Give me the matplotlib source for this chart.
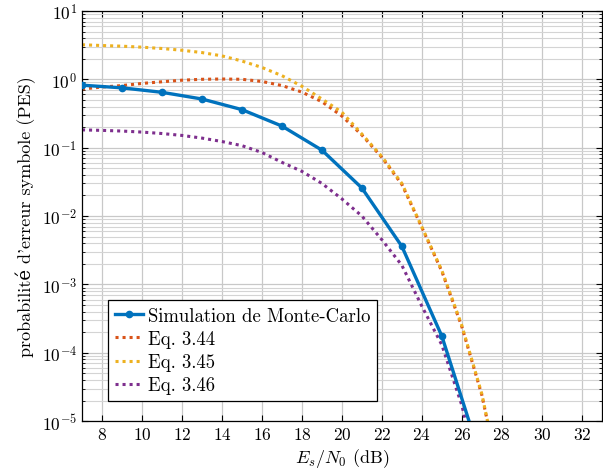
import matplotlib
matplotlib.use('Agg')
import matplotlib.pyplot as plt
import numpy as np

plt.rcParams['font.family'] = ['cmr10', 'DejaVu Serif']
plt.rcParams['mathtext.fontset'] = 'cm'
plt.rcParams['axes.formatter.use_mathtext'] = True

# simulation (Monte-Carlo), every 2 dB
snr_sim = [7, 9, 11, 13, 15, 17, 19, 21, 23, 25, 27]
pes_sim = [0.82, 0.75, 0.645, 0.515, 0.36, 0.207, 0.092, 0.0257, 0.0036, 1.75e-4, 2.6e-6]

# theoretical curves, read every 1 dB
snr_eq = [7, 8, 9, 10, 11, 12, 13, 14, 15, 16, 17, 18, 19, 20, 21, 22, 23, 24, 25, 26, 27, 28]
pes_344 = [0.72, 0.77, 0.81, 0.87, 0.92, 0.97, 1.0, 1.01, 1.0, 0.93, 0.81, 0.65, 0.47, 0.29, 0.153,
           0.072, 0.029, 6.8e-3, 1.55e-3, 2.4e-4, 2.4e-5, 1e-6]
pes_345 = [3.2, 3.12, 3.05, 2.95, 2.82, 2.66, 2.46, 2.2, 1.85, 1.49, 1.13, 0.79, 0.515, 0.33, 0.158,
           0.074, 0.03, 6.9e-3, 1.6e-3, 2.5e-4, 2.5e-5, 1e-6]
pes_346 = [0.182, 0.179, 0.175, 0.169, 0.161, 0.151, 0.138, 0.123, 0.107, 0.085, 0.061, 0.045, 0.030,
           0.0178, 0.01, 4.5e-3, 1.9e-3, 4.8e-4, 1.3e-4, 1.7e-5, 1e-6, 1e-7]

xticks = [8, 10, 12, 14, 16, 18, 20, 22, 24, 26, 28, 30, 32]
decades = [-5, -4, -3, -2, -1, 0, 1]
labels = ['Simulation de Monte-Carlo', 'Eq. 3.44', 'Eq. 3.45', 'Eq. 3.46']

fig = plt.figure(figsize=(6.03, 4.77), dpi=100)
ax = fig.add_axes([0.136, 0.115, 0.862, 0.86])

ax.plot(snr_sim, pes_sim, '-o', color='#0072BD', lw=2.4, ms=4.5, label=labels[0], zorder=5)
ax.plot(snr_eq, pes_344, color='#D95319', lw=2.2, ls=(0, (1, 1.3)), label=labels[1])
ax.plot(snr_eq, pes_345, color='#EDB120', lw=2.2, ls=(0, (1, 1.3)), label=labels[2])
ax.plot(snr_eq, pes_346, color='#7E2F8E', lw=2.2, ls=(0, (1, 1.3)), label=labels[3])

ax.set_yscale('log')
ax.set_xlim(7, 33)
ax.set_ylim(1e-5, 1e1)
ax.set_xticks(xticks)
ax.set_yticks([10.0 ** d for d in decades])
ax.set_yticklabels(['$10^{%d}$' % d for d in decades])
ax.set_yticks([k * 10.0 ** d for d in decades[:-1] for k in range(2, 10)], minor=True)
ax.set_yticklabels([], minor=True)

ax.grid(True, which='major', color='#c8c8c8', lw=0.9)
ax.grid(True, which='minor', axis='y', color='#d4d4d4', lw=0.8)
ax.set_axisbelow(True)

ax.tick_params(which='both', direction='in', top=True, right=True, labelsize=12.5)
ax.tick_params(which='major', length=4)
ax.tick_params(which='minor', length=2)
for s in ax.spines.values():
    s.set_linewidth(0.9)

ax.set_xlabel('$E_s/N_0$ (dB)', fontsize=13, labelpad=3)
ax.set_ylabel("probabilité d'erreur symbole (PES)", fontsize=13)

leg = ax.legend(loc='lower left', bbox_to_anchor=(0.05, 0.049), borderaxespad=0, fontsize=13.5,
                handlelength=1.5, handletextpad=0.3, labelspacing=0.28, fancybox=False,
                framealpha=1, edgecolor='black', borderpad=0.35)
leg.get_frame().set_linewidth(0.9)

fig.savefig('out.png', dpi=100)
